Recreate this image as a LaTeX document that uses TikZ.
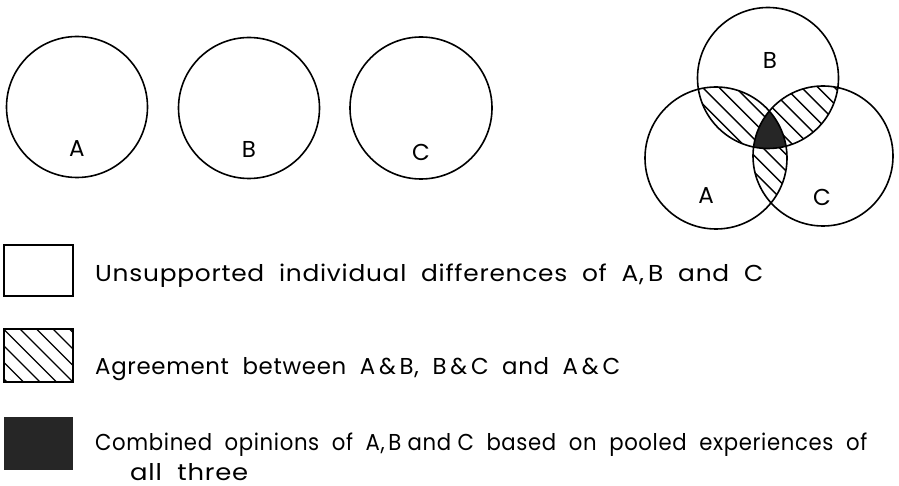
\documentclass[tikz,border=0pt]{standalone}
\usepackage{fontspec}
\setmainfont{Poppins}[LetterSpace=3]
\usepackage{graphicx}
\newcommand{\lfont}{\fontsize{23}{27}\selectfont}
\tikzset{
  circ/.style={line width=1.6pt},
  hatchline/.style={line width=1.4pt},
  lab/.style={inner sep=0pt, font=\lfont},
  legbox/.style={draw, line width=1.5pt},
  txt/.style={anchor=base west, inner sep=0pt, font=\lfont}
}
\definecolor{darkfill}{HTML}{262626}
\begin{document}
\begin{tikzpicture}[x=1pt,y=-1pt]
\useasboundingbox (0,0) rectangle (899,486);
% row of separate circles
\draw[circ] (77,107) circle (70.5);
\draw[circ] (249,108) circle (70.5);
\draw[circ] (421,108) circle (71);
\node[lab] (la) at (77,149) {A};
\node[lab] (lb) at (249,149) {B};
\node[lab] (lc) at (421,152) {C};
% Venn diagram
\coordinate (vb) at (768,78);
\coordinate (va) at (716,158);
\coordinate (vc) at (823,156);
\begin{scope}
  \clip (va) circle (71); \clip (vb) circle (70.5);
  \foreach \k in {0,...,40} \draw[hatchline] ({-309+16.5*\k+660},0) -- ++(400,400);
\end{scope}
\begin{scope}
  \clip (vb) circle (70.5); \clip (vc) circle (70);
  \foreach \k in {0,...,40} \draw[hatchline] ({-309+16.5*\k+660},0) -- ++(400,400);
\end{scope}
\begin{scope}
  \clip (va) circle (71); \clip (vc) circle (70);
  \foreach \k in {0,...,40} \draw[hatchline] ({-309+16.5*\k+660},0) -- ++(400,400);
\end{scope}
\begin{scope}
  \clip (va) circle (71); \clip (vb) circle (70.5);
  \fill[darkfill] (vc) circle (70);
\end{scope}
\draw[circ] (vb) circle (70.5);
\draw[circ] (va) circle (71);
\draw[circ] (vc) circle (70);
\node[lab] (vlb) at (770,60) {B};
\node[lab] (vla) at (706,196) {A};
\node[lab] (vlc) at (822,197) {C};
% legend
\node[legbox, minimum width=69pt, minimum height=51pt, inner sep=0pt] (box1) at (38.5,270.5) {};
\begin{scope}
  \clip (4,329) rectangle (73,382);
  \foreach \k in {0,...,12} \draw[hatchline] ({-391.5+16.5*\k},0) -- ++(500,500);
\end{scope}
\node[legbox, minimum width=69pt, minimum height=53pt, inner sep=0pt] (box2) at (38.5,355.5) {};
\node[fill=darkfill, minimum width=69pt, minimum height=53pt, inner sep=0pt] (box3) at (38.5,443.5) {};
\node[txt] (t1) at (95,282) {\resizebox{668pt}{\height}{Unsupported\ \ individual\ \ differences\ \ of\ \ A,\,B\ \ and\ \ C}};
\node[txt] (t2) at (95,374) {\resizebox{525pt}{\height}{Agreement\ \ between\ \ A\,\&\,B,\ \ B\,\&\,C\ \ and\ \ A\,\&\,C}};
\node[txt] (t3) at (95,450) {\resizebox{772pt}{\height}{Combined\ \ opinions\ \ of\ \ A,\,B\ and\ C\ \ based\ \ on\ \ pooled\ \ experiences\ \ of}};
\node[txt] (t4) at (130,480) {\resizebox{118pt}{\height}{all\ \ three}};
\end{tikzpicture}
\end{document}
